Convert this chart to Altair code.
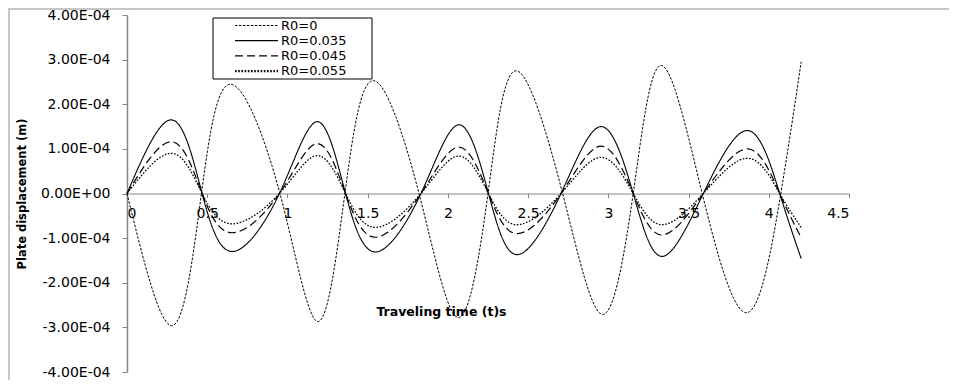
import altair as alt
import pandas as pd

# Zero crossings and extremes of each series
t_main = [0, 0.279, 0.468, 0.656, 0.950, 1.186, 1.362, 1.549, 1.832, 2.069,
          2.253, 2.432, 2.705, 2.955, 3.155, 3.335, 3.592, 3.870, 4.068, 4.202]
t_r0 = [0, 0.282, 0.464, 0.645, 0.953, 1.190, 1.358, 1.535, 1.820, 2.065,
        2.250, 2.425, 2.715, 2.965, 3.155, 3.329, 3.585, 3.866, 4.075, 4.202]

y_r0_0 = [0, -2.96e-4, 0, 2.45e-4, 0, -2.87e-4, 0, 2.53e-4, 0, -2.78e-4,
          0, 2.75e-4, 0, -2.71e-4, 0, 2.87e-4, 0, -2.67e-4, 0, 2.95e-4]
y_r0_035 = [0, 1.65e-4, 0, -1.30e-4, 0, 1.61e-4, 0, -1.31e-4, 0, 1.54e-4,
            0, -1.37e-4, 0, 1.50e-4, 0, -1.41e-4, 0, 1.41e-4, 0, -1.46e-4]
y_r0_045 = [0, 1.16e-4, 0, -0.88e-4, 0, 1.12e-4, 0, -0.98e-4, 0, 1.04e-4,
            0, -0.90e-4, 0, 1.06e-4, 0, -0.93e-4, 0, 1.00e-4, 0, -0.99e-4]
y_r0_055 = [0, 0.90e-4, 0, -0.68e-4, 0, 0.85e-4, 0, -0.76e-4, 0, 0.84e-4,
            0, -0.70e-4, 0, 0.81e-4, 0, -0.70e-4, 0, 0.79e-4, 0, -0.76e-4]

series_names = ["R0=0", "R0=0.035", "R0=0.045", "R0=0.055"]
series_dash = [[2.5, 1.5], [1, 0], [8, 4], [1.6, 1.6]]
series_width = [1.0, 1.3, 1.2, 2.2]
x_ticks = [0, 0.5, 1, 1.5, 2, 2.5, 3, 3.5, 4, 4.5]
y_ticks = [-4e-4, -3e-4, -2e-4, -1e-4, 0, 1e-4, 2e-4, 3e-4, 4e-4]

rows = []
for name, ts, ys in [(series_names[0], t_r0, y_r0_0),
                     (series_names[1], t_main, y_r0_035),
                     (series_names[2], t_main, y_r0_045),
                     (series_names[3], t_main, y_r0_055)]:
    for t, y in zip(ts, ys):
        rows.append({"series": name, "t": t, "y": y})
df = pd.DataFrame(rows)

W, H = 722, 357
FONT = "DejaVu Sans"

lines = alt.Chart(df).mark_line(interpolate="natural", color="black", strokeCap="butt").encode(
    x=alt.X("t:Q",
            scale=alt.Scale(domain=[0, 4.5], nice=False, zero=False),
            axis=alt.Axis(values=x_ticks, format="~g", offset=-H / 2, grid=False,
                          domainColor="#868686", tickColor="#868686", tickSize=4,
                          domainWidth=1.2, labelPadding=9, labelFont=FONT, labelFontSize=14,
                          labelColor="black",
                          title="Traveling time (t)s", titleFont=FONT, titleFontSize=12.5,
                          titleFontWeight="bold", titleColor="black",
                          titleX=314, titleY=118, titleBaseline="middle",
                          titleAlign="center")),
    y=alt.Y("y:Q",
            scale=alt.Scale(domain=[-4e-4, 4e-4], nice=False, zero=False),
            axis=alt.Axis(values=y_ticks, grid=False,
                          labelExpr="datum.value == 0 ? '0.00E+00' : (datum.value < 0 ? '-' : '') + format(abs(datum.value) * 10000, '.2f') + 'E-04'",
                          domainColor="#868686", tickColor="#868686", tickSize=5,
                          domainWidth=1.5, labelPadding=12, labelFont=FONT, labelFontSize=14,
                          labelColor="black",
                          title="Plate displacement (m)", titleFont=FONT, titleFontSize=11.5,
                          titleFontWeight="bold", titleColor="black",
                          titleX=-105, titleY=H / 2, titleAngle=-90,
                          titleBaseline="middle", titleAlign="center")),
    strokeDash=alt.StrokeDash("series:N",
                              scale=alt.Scale(domain=series_names, range=series_dash),
                              legend=None),
    strokeWidth=alt.StrokeWidth("series:N",
                                scale=alt.Scale(domain=series_names, range=series_width),
                                legend=None),
    order=alt.Order("t:Q"),
)

one = pd.DataFrame({"k": [0]})

# outer chart frame (light gray): top and left edges as thin filled bars
FRAME = "#c6c6c6"
frame_top = alt.Chart(one).mark_rect(fill=FRAME, strokeWidth=0).encode(
    x=alt.value(-119), x2=alt.value(W + 120), y=alt.value(-7), y2=alt.value(-5))
frame_left = alt.Chart(one).mark_rect(fill=FRAME, strokeWidth=0).encode(
    x=alt.value(-119), x2=alt.value(-117), y=alt.value(-7), y2=alt.value(H + 30))

# legend box with entries
legend_box = alt.Chart(one).mark_rect(fill="white", stroke="black", strokeWidth=1).encode(
    x=alt.value(86), x2=alt.value(245), y=alt.value(3), y2=alt.value(64))
legend_layers = [legend_box]
for i, name in enumerate(series_names):
    yy = 10.5 + 15.2 * i
    legend_layers.append(
        alt.Chart(one).mark_rule(color="black", strokeDash=series_dash[i],
                                 strokeWidth=series_width[i], strokeCap="butt").encode(
            x=alt.value(108), x2=alt.value(151), y=alt.value(yy)))
    legend_layers.append(
        alt.Chart(one).mark_text(align="left", baseline="middle", font=FONT,
                                 fontSize=13, color="black").encode(
            x=alt.value(154), y=alt.value(yy), text=alt.value(name)))

chart = alt.layer(frame_top, frame_left, lines, *legend_layers).properties(
    width=W, height=H,
    autosize=alt.AutoSizeParams(type="none"),
    padding={"left": 119, "top": 7, "right": 100, "bottom": 8},
).configure_view(stroke=None)

chart.save("out.html", embed_options={"renderer": "svg", "actions": False})
